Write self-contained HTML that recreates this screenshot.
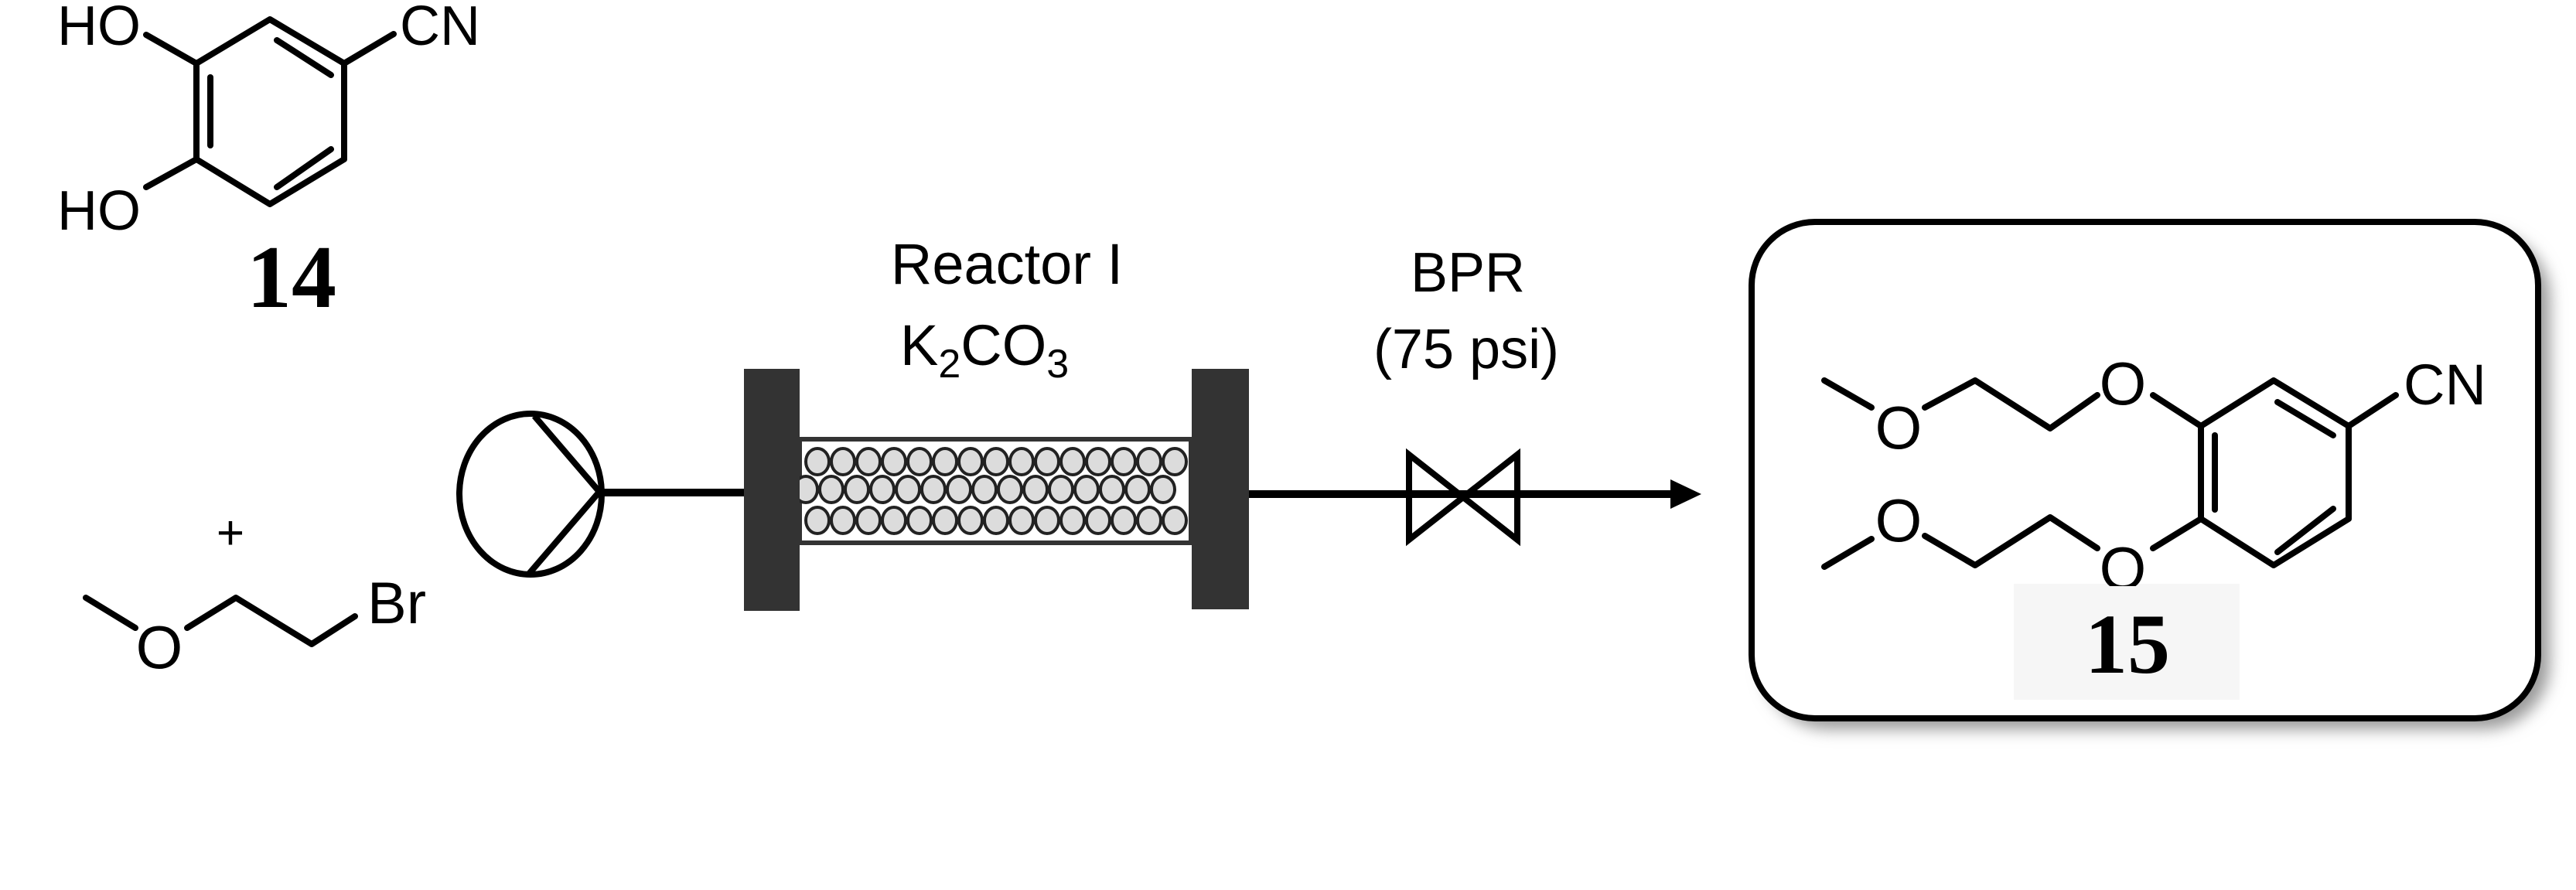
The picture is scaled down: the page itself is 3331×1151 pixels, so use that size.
<!DOCTYPE html>
<html><head><meta charset="utf-8"><style>
html,body{margin:0;padding:0;background:#fff;}
svg{display:block;}
text{font-family:"Liberation Sans",sans-serif;fill:#000;}
.b{font-family:"Liberation Serif",serif;font-weight:bold;}
</style></head><body>
<svg width="3331" height="1151" viewBox="0 0 3331 1151" xmlns="http://www.w3.org/2000/svg">
<defs>
<filter id="sh" x="-10%" y="-10%" width="130%" height="130%">
<feGaussianBlur stdDeviation="10"/>
</filter>
</defs>
<g stroke="#000" stroke-width="8" fill="none" stroke-linecap="round" stroke-linejoin="round">
<!-- compound 14 -->
<polygon points="349,25 254,82 254,206 349,264 445,206 445,82"/>
<line x1="272" y1="100" x2="272" y2="188"/>
<line x1="358" y1="52" x2="428" y2="97"/>
<line x1="358" y1="242" x2="428" y2="193"/>
<line x1="254" y1="82" x2="189" y2="45"/>
<line x1="254" y1="206" x2="189" y2="242"/>
<line x1="445" y1="82" x2="509" y2="44"/>
<!-- bromide -->
<polyline points="111,773 175,812"/>
<polyline points="242,812 305,773 403,833 459,797"/>
</g>
<text x="74" y="58" font-size="72">HO</text>
<text x="74" y="297" font-size="72">HO</text>
<text x="517" y="58" font-size="72">CN</text>
<text x="377" y="397" font-size="116" class="b" text-anchor="middle">14</text>
<text x="298" y="710" font-size="62" text-anchor="middle">+</text>
<text x="206" y="864" font-size="78" text-anchor="middle">O</text>
<text x="475" y="806" font-size="76">Br</text>

<!-- pump -->
<g stroke="#000" fill="none" stroke-width="8">
<ellipse cx="686" cy="639" rx="92" ry="104"/>
<polyline points="691,538 775,636 684,742"/>
<line x1="775" y1="637" x2="962" y2="637" stroke-width="10"/>
<line x1="1615" y1="639" x2="2170" y2="639" stroke-width="10"/>
<path d="M1822,588 L1822,698 L1962,588 L1962,698 Z" stroke-width="8" stroke-linejoin="miter"/>
</g>
<polygon points="2160,620 2200,639 2160,658" fill="#000"/>
<!-- reactor -->
<rect x="1034" y="568" width="506" height="134" fill="#fff" stroke="#333" stroke-width="6"/>
<g fill="#dcdcdc" stroke="#222" stroke-width="4">
<g id="r1">
<ellipse cx="1057" cy="597" rx="15" ry="17"/><ellipse cx="1090" cy="597" rx="15" ry="17"/><ellipse cx="1123" cy="597" rx="15" ry="17"/><ellipse cx="1156" cy="597" rx="15" ry="17"/><ellipse cx="1189" cy="597" rx="15" ry="17"/><ellipse cx="1222" cy="597" rx="15" ry="17"/><ellipse cx="1255" cy="597" rx="15" ry="17"/><ellipse cx="1288" cy="597" rx="15" ry="17"/><ellipse cx="1321" cy="597" rx="15" ry="17"/><ellipse cx="1354" cy="597" rx="15" ry="17"/><ellipse cx="1387" cy="597" rx="15" ry="17"/><ellipse cx="1420" cy="597" rx="15" ry="17"/><ellipse cx="1453" cy="597" rx="15" ry="17"/><ellipse cx="1486" cy="597" rx="15" ry="17"/><ellipse cx="1519" cy="597" rx="15" ry="17"/>
</g>
<use href="#r1" transform="translate(-15,36)"/>
<use href="#r1" transform="translate(0,76)"/>
</g>
<rect x="962" y="477" width="72" height="313" fill="#333"/>
<rect x="1541" y="477" width="74" height="311" fill="#333"/>
<text x="1302" y="367" font-size="74" text-anchor="middle">Reactor I</text>
<text x="1164" y="472" font-size="74">K<tspan font-size="52" dy="16">2</tspan><tspan dy="-16">CO</tspan><tspan font-size="52" dy="16">3</tspan></text>
<text x="1898" y="377" font-size="72" text-anchor="middle">BPR</text>
<text x="1896" y="476" font-size="72" text-anchor="middle">(75 psi)</text>

<!-- product box -->
<rect x="2280" y="300" width="1017" height="643" rx="85" fill="#999" filter="url(#sh)"/>
<rect x="2265" y="287" width="1017" height="642" rx="82" fill="#fff" stroke="#000" stroke-width="8"/>
<rect x="2604" y="755" width="292" height="150" fill="#f6f6f6"/>
<g stroke="#000" stroke-width="8" fill="none" stroke-linecap="round" stroke-linejoin="round">
<polygon points="2940,492 2846,551 2846,671 2940,731 3037,671 3037,551"/>
<line x1="2864" y1="563" x2="2864" y2="659"/>
<line x1="2945" y1="520" x2="3017" y2="563"/>
<line x1="2945" y1="714" x2="3017" y2="658"/>
<line x1="3037" y1="551" x2="3098" y2="511"/>
<line x1="2846" y1="551" x2="2784" y2="511"/>
<polyline points="2712,511 2651,554 2554,492 2489,527"/>
<line x1="2420" y1="527" x2="2359" y2="492"/>
<line x1="2846" y1="671" x2="2784" y2="709"/>
<polyline points="2712,709 2651,669 2554,731 2489,693"/>
<line x1="2420" y1="697" x2="2359" y2="733"/>
</g>
<text x="3108" y="523" font-size="74">CN</text>
<text x="2745" y="523" font-size="78" text-anchor="middle">O</text>
<text x="2455" y="580" font-size="78" text-anchor="middle">O</text>
<text x="2455" y="700" font-size="78" text-anchor="middle">O</text>
<text x="2745" y="762" font-size="78" text-anchor="middle">O</text>
<rect x="2604" y="758" width="292" height="20" fill="#f6f6f6"/>
<text x="2751" y="870" font-size="110" class="b" text-anchor="middle">15</text>
</svg>
</body></html>
